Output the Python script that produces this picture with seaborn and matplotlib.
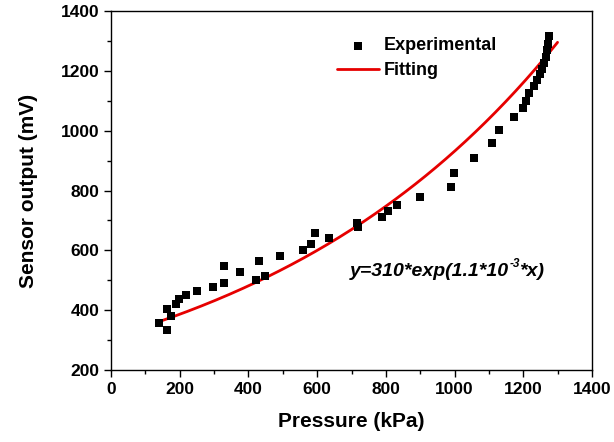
import numpy as np
import pandas as pd
import matplotlib
matplotlib.use("Agg")
import matplotlib.pyplot as plt
import seaborn as sns
from matplotlib.ticker import MultipleLocator

sns.set_theme(style="white")
plt.rcParams['font.family'] = ['Liberation Sans', 'DejaVu Sans']
plt.rcParams['text.color'] = 'black'
plt.rcParams['axes.labelcolor'] = 'black'
plt.rcParams['xtick.color'] = 'black'
plt.rcParams['ytick.color'] = 'black'

pressure = [140, 163, 163, 175, 188, 199, 218, 249, 298, 330, 330, 375, 422, 431, 447,
            492, 560, 582, 594, 634, 715, 718, 790, 806, 832, 900, 991, 997, 1057, 1110,
            1130, 1174, 1198, 1208, 1218, 1230, 1240, 1248, 1254, 1260, 1266, 1268, 1272, 1276]
output = [358, 332, 404, 382, 420, 436, 451, 463, 477, 490, 549, 528, 501, 565, 514,
          581, 601, 620, 659, 640, 693, 677, 712, 730, 751, 779, 812, 860, 910, 958,
          1003, 1045, 1075, 1100, 1125, 1148, 1168, 1188, 1205, 1225, 1247, 1270, 1290, 1316]

fit_a = 310
fit_b = 1.1e-3
fit_range = [140, 1300]

df = pd.DataFrame({"Pressure": pressure, "Output": output})
fx = np.linspace(fit_range[0], fit_range[1], 200)
fit_df = pd.DataFrame({"Pressure": fx, "Output": fit_a * np.exp(fit_b * fx)})

fig = plt.figure(figsize=(6.14, 4.42), dpi=100)
ax = fig.add_axes([0.181, 0.163, 0.783, 0.812])

sns.scatterplot(data=df, x="Pressure", y="Output", ax=ax, marker="s", color="black",
                s=34, edgecolor="black", linewidth=0, label="Experimental", zorder=3)
sns.lineplot(data=fit_df, x="Pressure", y="Output", ax=ax, color="#e60000",
             linewidth=2, label="Fitting", zorder=2)

ax.set_xlim(0, 1400)
ax.set_ylim(200, 1400)
ax.xaxis.set_major_locator(MultipleLocator(200))
ax.xaxis.set_minor_locator(MultipleLocator(100))
ax.yaxis.set_major_locator(MultipleLocator(200))
ax.yaxis.set_minor_locator(MultipleLocator(100))
ax.tick_params(which="both", direction="out", bottom=True, left=True, top=False, right=False,
               color="black")
ax.tick_params(which="major", length=5, width=1, labelsize=12.5)
ax.tick_params(which="minor", length=3, width=1)
for lab in ax.get_xticklabels() + ax.get_yticklabels():
    lab.set_fontweight("bold")
for sp in ax.spines.values():
    sp.set_color("black")
    sp.set_linewidth(1)

ax.set_xlabel("Pressure (kPa)", fontsize=15, fontweight="bold", labelpad=11)
ax.set_ylabel("Sensor output (mV)", fontsize=15, fontweight="bold", labelpad=16)

eq_kw = dict(fontstyle="italic", fontweight="bold")
t1 = ax.text(696, 528, "y=310*exp(1.1*10", fontsize=14, va="center", ha="left", **eq_kw)
t2 = ax.annotate("-3", xy=(1, 0.62), xycoords=t1, fontsize=8.5, va="bottom", ha="left",
                 **eq_kw)
t3 = ax.annotate("*x)", xy=(1, 0), xycoords=(t2, t1), fontsize=14, va="bottom", ha="left",
                 **eq_kw)

leg = ax.legend(loc="upper left", bbox_to_anchor=(0.455, 0.947), frameon=False,
                prop={"weight": "bold", "size": 13}, handlelength=2.3,
                handletextpad=0.3, labelspacing=0.45, borderaxespad=0)

fig.savefig("out.png", dpi=100)
